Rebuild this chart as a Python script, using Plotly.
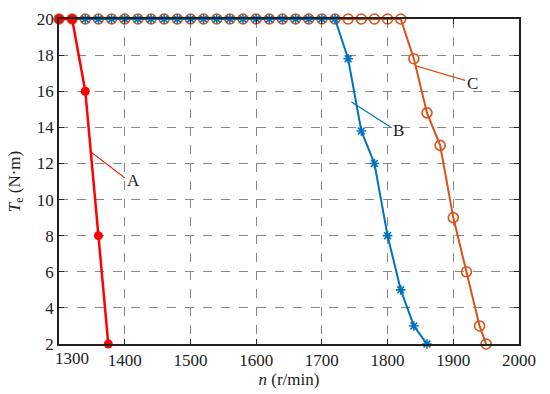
import plotly.graph_objects as go

# Curve A (red, filled circles)
a_n = [1300, 1320, 1340, 1360, 1375]
a_t = [20, 20, 16, 8, 2]

# Curve B (blue, asterisks)
b_n = [1300, 1320, 1340, 1360, 1380, 1400, 1420, 1440, 1460, 1480, 1500, 1520, 1540, 1560, 1580,
       1600, 1620, 1640, 1660, 1680, 1700, 1720, 1740, 1760, 1780, 1800, 1820, 1840, 1860]
b_t = [20] * 22 + [17.8, 13.8, 12, 8, 5, 3, 2]

# Curve C (orange, open circles)
c_n = [1300, 1320, 1340, 1360, 1380, 1400, 1420, 1440, 1460, 1480, 1500, 1520, 1540, 1560, 1580,
       1600, 1620, 1640, 1660, 1680, 1700, 1720, 1740, 1760, 1780, 1800, 1820, 1840, 1860, 1880,
       1900, 1920, 1940, 1950]
c_t = [20] * 27 + [17.8, 14.8, 13, 9, 6, 3, 2]

x_ticks = [1300, 1400, 1500, 1600, 1700, 1800, 1900, 2000]
x_tick_text = ["", "1400", "1500", "1600", "1700", "1800", "1900", "2000"]
first_x_label = "1300"  # drawn nudged right of its tick, as in the original
y_ticks = [2, 4, 6, 8, 10, 12, 14, 16, 18, 20]

RED = "#ff0000"
BLUE = "#0072bd"
ORANGE = "#d95319"

fig = go.Figure()
fig.add_trace(go.Scatter(x=c_n, y=c_t, mode="lines+markers",
                         line=dict(color=ORANGE, width=2),
                         marker=dict(symbol="circle-open", size=10, color=ORANGE, line=dict(width=1.6)),
                         cliponaxis=False, showlegend=False))
fig.add_trace(go.Scatter(x=b_n, y=b_t, mode="lines+markers",
                         line=dict(color=BLUE, width=2),
                         marker=dict(symbol="asterisk-open", size=8, color=BLUE, line=dict(width=1.6, color=BLUE)),
                         cliponaxis=False, showlegend=False))
fig.add_trace(go.Scatter(x=a_n, y=a_t, mode="lines+markers",
                         line=dict(color=RED, width=2.5),
                         marker=dict(symbol="circle", size=9, color=RED),
                         cliponaxis=False, showlegend=False))

font = "Liberation Serif"

def label(x0, y0, x1, y1, text, color):
    fig.add_shape(type="line", x0=x0, y0=y0, x1=x1, y1=y1, xref="x", yref="y",
                  line=dict(color=color, width=1.2))
    fig.add_annotation(x=x1, y=y1, text=text, showarrow=False, xref="x", yref="y",
                       xanchor="left", yanchor="middle", xshift=0, yshift=-3,
                       font=dict(family=font, size=17, color="#222"))

label(1350, 12.6, 1400, 11.2, "A", RED)
label(1745, 15.4, 1805, 14.0, "B", BLUE)
label(1843, 17.4, 1918, 16.6, "C", ORANGE)

fig.add_annotation(x=x_ticks[0], y=y_ticks[0], xref="x", yref="y", text=first_x_label,
                   showarrow=False, xanchor="left", yanchor="top", xshift=-6, yshift=-3,
                   font=dict(family=font, size=17, color="#222"))

axis_common = dict(showline=True, linecolor="#222", linewidth=1.5, mirror="ticks",
                   ticks="inside", ticklen=5, tickcolor="#222",
                   showgrid=True, gridcolor="#888", griddash="dash", gridwidth=1,
                   zeroline=False, tickfont=dict(family=font, size=17, color="#222"))

fig.update_xaxes(range=[1300, 2000], tickvals=x_ticks, ticktext=x_tick_text, **axis_common,
                 title=dict(text="<i>n</i> (r/min)", font=dict(family=font, size=17, color="#222"), standoff=4))
fig.update_yaxes(range=[2, 20], tickvals=y_ticks, **axis_common,
                 title=dict(text="<i>T</i><sub>e</sub> (N·m)", font=dict(family=font, size=17, color="#222"), standoff=12))

fig.update_layout(width=550, height=394, margin=dict(l=59, r=31, t=19, b=50, autoexpand=False),
                  paper_bgcolor="white", plot_bgcolor="white")

fig.write_html("out.html", config={"displayModeBar": False},
               post_script="document.body.style.margin='0';")
